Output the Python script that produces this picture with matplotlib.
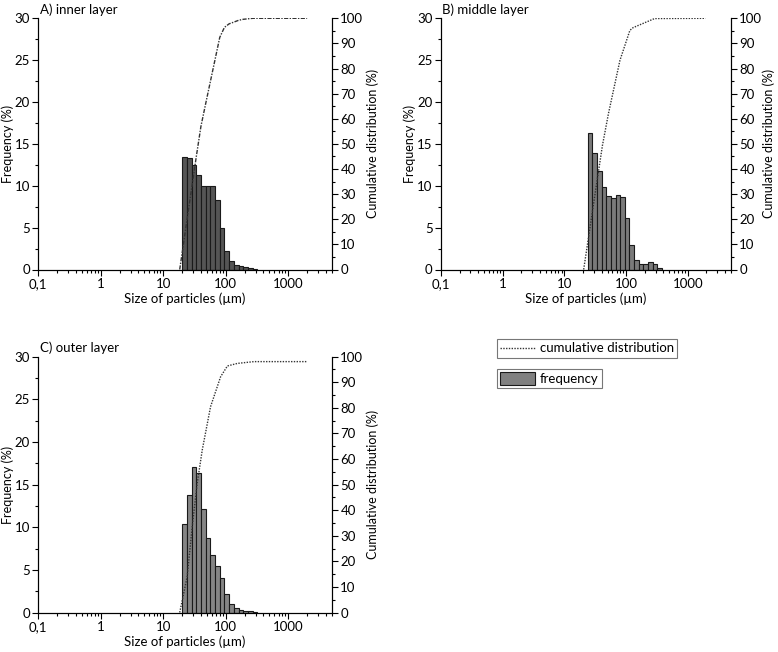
import numpy as np
import matplotlib
matplotlib.use("Agg")
import matplotlib.pyplot as plt
from matplotlib.ticker import FixedLocator, FuncFormatter, MultipleLocator, LogLocator, NullFormatter
from matplotlib.lines import Line2D
from matplotlib.patches import Patch

plt.rcParams['font.family'] = ['Lato', 'DejaVu Sans']
plt.rcParams['font.size'] = 9.5

# bin edges (um) and frequencies (%)
edges_a = [20, 23.8, 28.3, 33.6, 40, 47.6, 56.6, 67.3, 80, 95.1, 113, 135, 160, 190, 226, 269, 320]
freq_a = [13.4, 13.3, 12.5, 11.3, 10.0, 10.0, 10.0, 8.3, 5.0, 2.2, 0.96, 0.56, 0.44, 0.3, 0.15, 0.05]

edges_b = [23.8, 28.3, 33.6, 40, 47.6, 56.6, 67.3, 80, 95.1, 113, 135, 160, 190, 226, 269, 320, 381]
freq_b = [16.3, 13.9, 11.75, 9.9, 8.75, 8.55, 8.95, 8.7, 6.15, 2.95, 1.15, 0.68, 0.68, 0.92, 0.68, 0.2]

edges_c = [20, 23.8, 28.3, 33.6, 40, 47.6, 56.6, 67.3, 80, 95.1, 113, 135, 160, 190, 226, 269, 320]
freq_c = [10.4, 13.8, 17.0, 16.4, 12.1, 8.7, 6.7, 5.5, 4.0, 2.2, 0.97, 0.47, 0.27, 0.23, 0.15, 0.08]

# cumulative curves (um, %)
cum_x_a = [18.3, 20, 23.8, 28.3, 33.6, 40, 47.6, 56.6, 67.3, 80, 95.1, 113, 135, 160, 190, 226, 269, 2000]
cum_y_a = [0, 6.5, 19.4, 32, 44.7, 57, 66, 74.8, 83.6, 92.4, 96.4, 97.8, 98.5, 99.2, 99.6, 99.8, 100, 100]

cum_x_b = [20.5, 29.6, 41.3, 51.6, 79.4, 115, 130, 289, 1930]
cum_y_b = [0, 26, 49.4, 62, 83.3, 95.2, 96.3, 99.9, 100]

cum_x_c = [18.3, 24.1, 29, 34.9, 42, 57, 82.6, 106, 153, 282, 2030]
cum_y_c = [0, 14, 33.5, 50.5, 63.5, 80.4, 92.1, 96.3, 97.3, 98, 98]

titles = ["A) inner layer", "B) middle layer", "C) outer layer"]
xticks = [0.1, 1, 10, 100, 1000]
xticklabels = ["0,1", "1", "10", "100", "1000"]

W, H = 778, 652
fig = plt.figure(figsize=(W / 100, H / 100), dpi=100)


def px_axes(x0, x1, ytop, ybot):
    return fig.add_axes([x0 / W, 1 - ybot / H, (x1 - x0) / W, (ybot - ytop) / H])


def panel(ax, edges, freq, cx, cy, title, barcol, ls, rpad=2):
    edges = np.array(edges)
    ax.bar(edges[:-1], freq, width=np.diff(edges), align='edge',
           color=barcol, edgecolor='#1a1a1a', linewidth=0.8)
    ax.set_xscale('log')
    ax.set_xlim(0.1, 5000)
    ax.set_ylim(0, 30)
    ax.xaxis.set_major_locator(FixedLocator(xticks))
    ax.xaxis.set_major_formatter(FuncFormatter(lambda v, p: xticklabels[xticks.index(v)] if v in xticks else ""))
    ax.xaxis.set_minor_locator(LogLocator(base=10, subs=np.arange(2, 10)))
    ax.xaxis.set_minor_formatter(NullFormatter())
    ax.yaxis.set_major_locator(MultipleLocator(5))
    ax.yaxis.set_minor_locator(MultipleLocator(2.5))
    ax.spines['top'].set_visible(False)
    ax.tick_params(which='major', direction='out', length=4, width=0.8, pad=2)
    ax.tick_params(which='minor', direction='out', length=2.5, width=0.8)
    ax.set_xlabel("Size of particles (\u00b5m)", labelpad=2)
    ax.set_ylabel("Frequency (%)", labelpad=0.5, fontsize=9)
    ax.text(0.005, 1.01, title, transform=ax.transAxes, ha='left', va='bottom')

    ax2 = ax.twinx()
    ax2.plot(cx, cy, color='#333333', lw=1.0, ls=ls)
    ax2.set_ylim(0, 100)
    ax2.yaxis.set_major_locator(MultipleLocator(10))
    ax2.yaxis.set_minor_locator(MultipleLocator(5))
    ax2.spines['top'].set_visible(False)
    ax2.tick_params(which='major', direction='out', length=4, width=0.8, pad=2)
    ax2.tick_params(which='minor', direction='out', length=2.5, width=0.8)
    ax2.set_ylabel("Cumulative distribution (%)", labelpad=rpad, fontsize=9)
    return ax2


ax_a = px_axes(38.3, 332, 18.3, 269.5)
ax_b = px_axes(441, 731, 18.3, 269.5)
ax_c = px_axes(38.3, 332, 356.5, 612.5)

panel(ax_a, edges_a, freq_a, cum_x_a, cum_y_a, titles[0], '#555555', (0, (3, 1, 1, 1)))
panel(ax_b, edges_b, freq_b, cum_x_b, cum_y_b, titles[1], '#7a7a7a', (0, (1, 1)), rpad=0)
panel(ax_c, edges_c, freq_c, cum_x_c, cum_y_c, titles[2], '#858585', (0, (1, 1)))

# two separate legend boxes
leg1 = fig.legend(handles=[Line2D([], [], color='#333333', lw=1.0, ls=(0, (1, 1)))],
                  labels=["cumulative distribution"], loc='upper left',
                  bbox_to_anchor=(497 / W, 1 - 339 / H), frameon=True, fancybox=False,
                  edgecolor='#555555', handlelength=2.6, handletextpad=0.4,
                  borderpad=0.25, borderaxespad=0)
leg1.get_frame().set_linewidth(0.8)
leg2 = fig.legend(handles=[Patch(facecolor='#808080', edgecolor='#1a1a1a', lw=0.8)],
                  labels=["frequency"], loc='upper left',
                  bbox_to_anchor=(497 / W, 1 - 369 / H), frameon=True, fancybox=False,
                  edgecolor='#555555', handlelength=2.6, handleheight=1.1, handletextpad=0.4,
                  borderpad=0.25, borderaxespad=0)
leg2.get_frame().set_linewidth(0.8)

fig.savefig("out.png", dpi=100)
